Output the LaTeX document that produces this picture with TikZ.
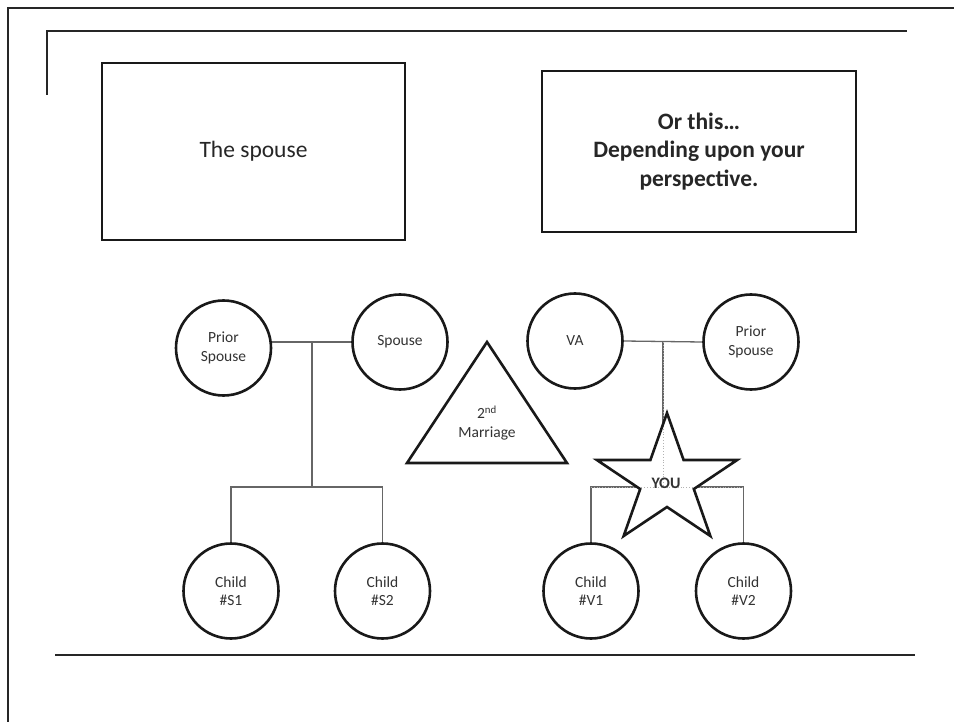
\documentclass[tikz,border=0pt]{standalone}
\usepackage{fontspec}
\setmainfont{Carlito}
\begin{document}
\begin{tikzpicture}[x=1pt,y=-1pt,
  person/.style={circle, draw=black!90, line width=2.6pt, minimum size=95pt,
    inner sep=0pt, align=center, text=black!80,
    font=\fontsize{15.5}{18.5}\selectfont},
  conn/.style={draw=black!60, line width=1.3pt},
  hidden/.style={draw=black!30, line width=0.8pt, dotted},
  rule/.style={draw=black!85, line width=2pt},
  panel/.style={draw=black!90, line width=2.6pt, inner sep=0pt, align=center,
    text=black!85},
  outline/.style={draw=black!90, line width=2.6pt, line join=miter},
  label/.style={align=center, inner sep=0pt, text=black!80,
    font=\fontsize{15.5}{18.5}\selectfont}
]
\useasboundingbox (0,0) rectangle (954,722);

% page frame and rules
\draw[rule] (8,722) -- (8,8) -- (954,8);
\draw[rule] (47,95) -- (47,31) -- (907,31);
\draw[rule] (55,655) -- (915,655);

% title panels
\node[panel, minimum width=303pt, minimum height=177pt,
  font=\fontsize{23.5}{28.5}\selectfont] (spousebox) at (253.5,151.5) {The spouse};
\node[panel, minimum width=314pt, minimum height=161pt,
  font=\fontsize{23.5}{28.5}\selectfont\bfseries] (otherbox) at (699,151.5)
  {Or this…\\Depending upon your\\perspective.};

% people
\node[person] (ps1) at (223.5,348) {Prior\\Spouse};
\node[person] (sp)  at (400,342) {Spouse};
\node[person] (va)  at (575,341) {VA};
\node[person] (ps2) at (751,342) {Prior\\Spouse};
\node[person] (s1)  at (231,591) {Child\\\#S1};
\node[person] (s2)  at (382.5,591) {Child\\\#S2};
\node[person] (v1)  at (591,591) {Child\\\#V1};
\node[person] (v2)  at (743.5,591) {Child\\\#V2};

% junction points
\coordinate (js) at (312,342);
\coordinate (bs) at (312,487);
\coordinate (jv) at (663,342);
\coordinate (bv) at (663,487);

% first family
\draw[conn] (sp.west -| ps1.east) -- (sp.west);
\draw[conn] (js) -- (bs);
\draw[conn] (s1.north) -- (s1.north |- bs) -- (s2.north |- bs) -- (s2.north);

% second family
\draw[conn] (va.east) -- (ps2.west);
\draw[conn] (jv) -- (bv);
\draw[conn] (v1.north) -- (v1.north |- bv) -- (v2.north |- bv) -- (v2.north);

% second marriage triangle
\draw[outline, fill=white] (487,342) -- (567,463) -- (407,463) -- cycle;
\node[label] (marriage) at (487,423) {2\textsuperscript{nd}\\Marriage};

% the star, covering the lines that run behind it
\begin{scope}[shift={(667,481)}, xscale=1.085]
  \path[fill=white]
    (-90:68) -- (-54:26) -- (-18:68) -- (18:26) -- (54:68) -- (90:26)
    -- (126:68) -- (162:26) -- (198:68) -- (234:26) -- cycle;
\end{scope}
\begin{scope}
  \begin{scope}[shift={(667,481)}, xscale=1.085]
    \clip
      (-90:68) -- (-54:26) -- (-18:68) -- (18:26) -- (54:68) -- (90:26)
      -- (126:68) -- (162:26) -- (198:68) -- (234:26) -- cycle;
  \end{scope}
  \draw[hidden] (jv) -- (bv);
  \draw[hidden] (v1.north |- bv) -- (v2.north |- bv);
\end{scope}
\begin{scope}[shift={(667,481)}, xscale=1.085]
  \draw[outline]
    (-90:68) -- (-54:26) -- (-18:68) -- (18:26) -- (54:68) -- (90:26)
    -- (126:68) -- (162:26) -- (198:68) -- (234:26) -- cycle;
\end{scope}
\node[label, font=\fontsize{16}{19}\selectfont\bfseries] (you) at (666,483) {YOU};

\end{tikzpicture}
\end{document}
